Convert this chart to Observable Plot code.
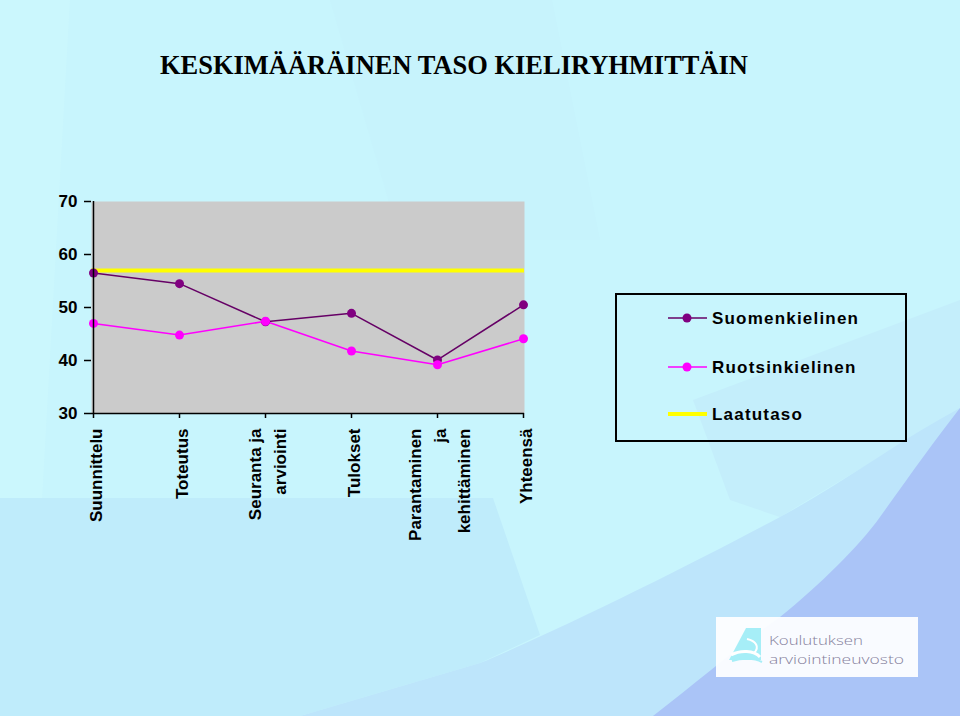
<!DOCTYPE html>
<html>
<head>
<meta charset="utf-8">
<script src="https://cdn.jsdelivr.net/npm/d3@7"></script>
<script src="https://cdn.jsdelivr.net/npm/@observablehq/plot@0.6"></script>
<style>
  html, body { margin: 0; padding: 0; }
  body { width: 960px; height: 716px; overflow: hidden; }
  #page { position: relative; width: 960px; height: 716px; background: #c8f5fd; font-family: "Liberation Sans", Arial, sans-serif; }
  #bg { position: absolute; left: 0; top: 0; }
  #title { position: absolute; left: 0; top: 0; }
  #chart { position: absolute; left: 0; top: 180px; }
  #chart svg { overflow: visible; }
  #legend { position: absolute; left: 615px; top: 293px; }
  #logo { position: absolute; left: 716px; top: 617px; width: 202px; height: 60px; background: rgba(255,255,255,0.93); }
</style>
</head>
<body>
<div id="page">
  <svg id="bg" width="960" height="716">
    <rect x="0" y="0" width="960" height="716" fill="#c8f5fd"/>
    <polygon points="0,0 70,0 30,716 0,716" fill="#cdf8fe" opacity="0.6"/>
    <polygon points="330,0 552,0 600,240 400,240" fill="#c0eefb" opacity="0.15"/>
    <polygon points="693,400 960,300 960,413 880,457 780,517 730,500" fill="#c4eefb"/>
    <polygon points="0,498 493,498 540,635 480,663 300,716 0,716" fill="#bfecfb"/>
    <path d="M300,716 L480,663 C560,630 700,560 780,517 C840,485 900,440 960,408 L960,716 Z" fill="#bde5fb"/>
    <path d="M653,716 C700,680 740,645 780,617 C820,585 860,545 880,517 C910,475 935,440 960,408 L960,716 Z" fill="#aac4f7"/>
  </svg>
  <svg id="title" width="960" height="100">
    <text x="454" y="74" text-anchor="middle" font-family="'Liberation Serif', 'Times New Roman', serif" font-weight="bold" font-size="28" textLength="588" lengthAdjust="spacingAndGlyphs" fill="#000">KESKIMÄÄRÄINEN TASO KIELIRYHMITTÄIN</text>
  </svg>
  <div id="chart"></div>
  <svg id="legend" width="292" height="149">
    <rect x="1" y="1" width="290" height="147" fill="none" stroke="#000" stroke-width="2"/>
    <g id="legend-items"></g>
  </svg>
  <div id="logo">
    <svg width="202" height="60">
      <polygon points="30,11 45,11 45,43 13,43" fill="#a6eef7"/>
      <path d="M15,38 C24,33 38,33 44,40" stroke="#ffffff" stroke-width="3" fill="none"/>
      <path d="M31,22 C40,24 44,30 38,36" stroke="#ffffff" stroke-width="2" fill="none"/>
      <path d="M16,44 C26,41 38,41 46,45" stroke="#a6eef7" stroke-width="2" fill="none"/>
      <text x="53" y="28" font-family="'Open Sans', 'Liberation Sans', sans-serif" font-weight="300" font-size="13.5" fill="#857f9c" textLength="94" lengthAdjust="spacingAndGlyphs">Koulutuksen</text>
      <text x="53" y="47" font-family="'Open Sans', 'Liberation Sans', sans-serif" font-weight="300" font-size="13.5" fill="#857f9c" textLength="135" lengthAdjust="spacingAndGlyphs">arviointineuvosto</text>
    </svg>
  </div>
</div>
<script>
// ---- data ----
const categories = ["Suunnittelu", "Toteutus", "Seuranta ja\narviointi", "Tulokset", "Parantaminen\nja\nkehittäminen", "Yhteensä"];
const suomenkielinen = [56.5, 54.5, 47.3, 48.9, 40.1, 50.5];
const ruotsinkielinen = [47.0, 44.8, 47.4, 41.8, 39.2, 44.1];
const laatutaso = 57;
const yTicks = [30, 40, 50, 60, 70];
const seriesNames = ["Suomenkielinen", "Ruotsinkielinen", "Laatutaso"];

const suomiRows = categories.map((c, i) => ({cat: c, value: suomenkielinen[i]}));
const ruotsiRows = categories.map((c, i) => ({cat: c, value: ruotsinkielinen[i]}));

const chart = Plot.plot({
  width: 560,
  height: 390,
  marginLeft: 91,
  marginRight: 36,
  marginTop: 21,
  marginBottom: 157,
  style: {background: "transparent", fontFamily: "'Liberation Sans', Arial, sans-serif", color: "#000", overflow: "visible"},
  x: {type: "point", domain: categories, padding: 0, axis: null},
  y: {domain: [30, 70], axis: null},
  marks: [
    Plot.frame({fill: "#cbcbcb", stroke: null}),
    Plot.ruleY([laatutaso], {stroke: "#ffff00", strokeWidth: 4}),
    Plot.line(suomiRows, {x: "cat", y: "value", stroke: "#660066", strokeWidth: 1.5}),
    Plot.line(ruotsiRows, {x: "cat", y: "value", stroke: "#ff00ff", strokeWidth: 1.5}),
    Plot.dot(suomiRows, {x: "cat", y: "value", fill: "#800080", r: 4.5}),
    Plot.dot(ruotsiRows, {x: "cat", y: "value", fill: "#ff00ff", r: 4.5}),
    Plot.ruleX([categories[0]], {stroke: "#000", strokeWidth: 1.5}),
    Plot.ruleY([30], {stroke: "#000", strokeWidth: 1.5}),
    Plot.axisY({ticks: yTicks, label: null, tickSize: 7, tickPadding: 7, fontSize: 17, fontWeight: "bold", stroke: "#000", strokeWidth: 1.5}),
    Plot.axisX({ticks: categories, label: null, tickSize: 5, tickFormat: () => "", stroke: "#000", strokeWidth: 1.5}),
    Plot.text(categories, {x: d => d, frameAnchor: "bottom", dy: 15, rotate: -90, textAnchor: "end", lineAnchor: "middle", lineHeight: 1.47, fontSize: 17, fontWeight: "bold", fill: "#000"})
  ]
});
document.getElementById("chart").appendChild(chart);

// ---- legend ----
const legendColors = [
  {line: "#660066", dot: "#800080", width: 1.5},
  {line: "#ff00ff", dot: "#ff00ff", width: 1.5},
  {line: "#ffff00", dot: null, width: 4}
];
const legendY = [25, 74, 121];
const g = d3.select("#legend-items");
seriesNames.forEach((name, i) => {
  const c = legendColors[i];
  g.append("line").attr("x1", 53).attr("x2", 92).attr("y1", legendY[i]).attr("y2", legendY[i])
    .attr("stroke", c.line).attr("stroke-width", c.width);
  if (c.dot) g.append("circle").attr("cx", 72).attr("cy", legendY[i]).attr("r", 4.5).attr("fill", c.dot);
  g.append("text").attr("x", 97).attr("y", legendY[i] + 6)
    .attr("font-family", "'Liberation Sans', Arial, sans-serif").attr("font-weight", "bold")
    .attr("font-size", 17).attr("letter-spacing", 1.2).attr("fill", "#000").text(name);
});
</script>
</body>
</html>
